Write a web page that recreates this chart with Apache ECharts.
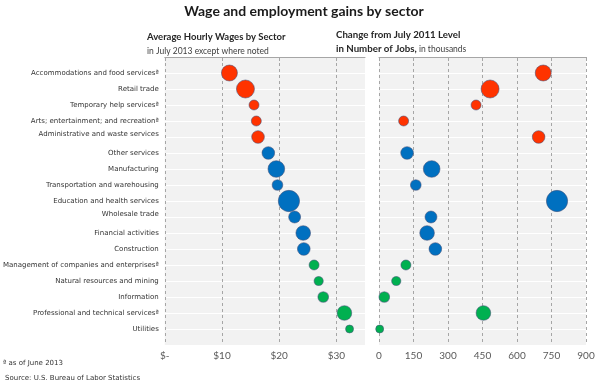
<!DOCTYPE html>
<html><head><meta charset="utf-8">
<script src="https://cdn.jsdelivr.net/npm/echarts@6/dist/echarts.min.js"></script>
<style>html,body{margin:0;padding:0;background:#fff}#c{width:600px;height:385px}</style>
</head><body><div id="c"></div>
<script>
const categories = [
  'Accommodations and food servicesª','Retail trade','Temporary help servicesª',
  'Arts; entertainment; and recreationª','Administrative and waste services','Other services',
  'Manufacturing','Transportation and warehousing','Education and health services',
  'Wholesale trade','Financial activities','Construction',
  'Management of companies and enterprisesª','Natural resources and mining','Information',
  'Professional and technical servicesª','Utilities'
];
// average hourly wage, dollars
const wages = [11.3,14.1,15.6,16.0,16.3,18.1,19.5,19.7,21.7,22.7,24.2,24.3,26.1,26.9,27.7,31.4,32.3];
// change in jobs since July 2011, thousands
const jobs = [714,483,422,107,694,122,229,160,774,226,209,245,117,75,23,454,3];
// bubble size (employment, millions, estimated)
const employment = [10.0,13.6,2.5,2.5,5.2,5.2,11.2,3.1,20.7,4.4,7.9,5.2,2.5,1.9,3.1,7.9,1.1];
// colour group: 0 = low wage, 1 = mid wage, 2 = high wage
const groups = [0,0,0,0,0,1,1,1,1,1,1,1,2,2,2,2,2];
const wageTicks = [0,10,20,30];
const jobTicks = [0,150,300,450,600,750,900];
// labels drawn slightly above their row in the original
const raisedLabels = ['Administrative and waste services','Wholesale trade'];

const colors = ['#ff3300','#0070c0','#00b050'];
const chart = echarts.init(document.getElementById('c'));

function mkData(xs){
  return xs.map((x,i)=>({value:[x,i+1,employment[i]], itemStyle:{color:colors[groups[i]]}}));
}
const symSize = v => 4 + 3.8*Math.sqrt(v[2]);
const gridLineStyle = {color:'#a6a6a6', type:[3,3], width:1};
const lblFont = {fontFamily:'DejaVu Sans', fontSize:7, color:'#333'};

function yAxis(idx, showLabels){
  return {type:'value', gridIndex:idx, min:0, max:18, interval:1, inverse:true,
    axisLine:{show:false}, axisTick:{show:false},
    splitLine:{show:true, lineStyle:{color:'#ffffff', width:1}},
    axisLabel:Object.assign({show:showLabels, margin:6,
      rich:{up:Object.assign({padding:[0,0,6,0]}, lblFont), n:Object.assign({}, lblFont)},
      formatter: v => {
        if (!(v>=1 && v<=categories.length)) return '';
        const t = categories[v-1];
        return raisedLabels.indexOf(t)>=0 ? '{up|'+t+'}' : '{n|'+t+'}';
      }}, lblFont)
  };
}
function xAxis(idx, max, interval, fmt){
  return {type:'value', gridIndex:idx, min:0, max:max, interval:interval,
    axisLine:{show:true, lineStyle:{color:'#a6a6a6'}},
    axisTick:{show:true, length:4, lineStyle:{color:'#a6a6a6'}},
    splitLine:{show:false},
    axisLabel:{margin:6, fontFamily:'Lato', fontSize:10, color:'#595959', showMaxLabel: max===900, formatter:fmt}
  };
}
function vlines(ticks){
  return {silent:true, z:1, symbol:'none', label:{show:false}, lineStyle:gridLineStyle,
    data: ticks.map(t=>({xAxis:t}))};
}

chart.setOption({
  animation:false,
  grid:[
    {left:163, right:235, top:57, bottom:40, show:true, backgroundColor:'#f2f2f2', borderWidth:0},
    {left:379, right:14, top:57, bottom:40, show:true, backgroundColor:'#f2f2f2', borderWidth:0}
  ],
  xAxis:[
    xAxis(0, 35, 10, v => v===0 ? '$-' : (v===35 ? '' : '$'+v)),
    xAxis(1, 900, 150, v => String(v))
  ],
  yAxis:[yAxis(0,true), yAxis(1,false)],
  series:[
    {type:'scatter', z:3, xAxisIndex:0, yAxisIndex:0, data:mkData(wages), symbolSize:symSize,
      itemStyle:{borderColor:'rgba(70,80,120,0.55)', borderWidth:1, opacity:1},
      markLine:vlines(wageTicks)},
    {type:'scatter', z:3, xAxisIndex:1, yAxisIndex:1, data:mkData(jobs), symbolSize:symSize,
      itemStyle:{borderColor:'rgba(70,80,120,0.55)', borderWidth:1, opacity:1},
      markLine:vlines(jobTicks)}
  ],
  graphic:[
    {type:'text', x:304, y:11, style:{text:'Wage and employment gains by sector', textAlign:'center', textVerticalAlign:'middle', font:'bold 14px Lato', fill:'#1a1a1a'}},
    {type:'text', x:147, y:37, style:{text:'Average Hourly Wages by Sector', textAlign:'left', textVerticalAlign:'middle', font:'bold 9.5px Lato', fill:'#262626'}},
    {type:'text', x:147, y:51, style:{text:'in July 2013 except where noted', textAlign:'left', textVerticalAlign:'middle', font:'8.5px Lato', fill:'#404040'}},
    {type:'text', x:336, y:35, style:{text:'Change from July 2011 Level', textAlign:'left', textVerticalAlign:'middle', font:'bold 9.7px Lato', fill:'#262626'}},
    {type:'text', x:336, y:49, style:{text:'{b|in Number of Jobs,}{n| in thousands}', textAlign:'left', textVerticalAlign:'middle',
      rich:{b:{font:'bold 9.7px Lato', fill:'#262626'}, n:{font:'8.5px Lato', fill:'#404040'}}}},
    {type:'text', x:3, y:363, style:{text:'ª as of June 2013', textAlign:'left', textVerticalAlign:'middle', font:'7px DejaVu Sans', fill:'#333'}},
    {type:'text', x:5, y:378, style:{text:'Source: U.S. Bureau of Labor Statistics', textAlign:'left', textVerticalAlign:'middle', font:'7px DejaVu Sans', fill:'#333'}}
  ]
});
</script></body></html>
